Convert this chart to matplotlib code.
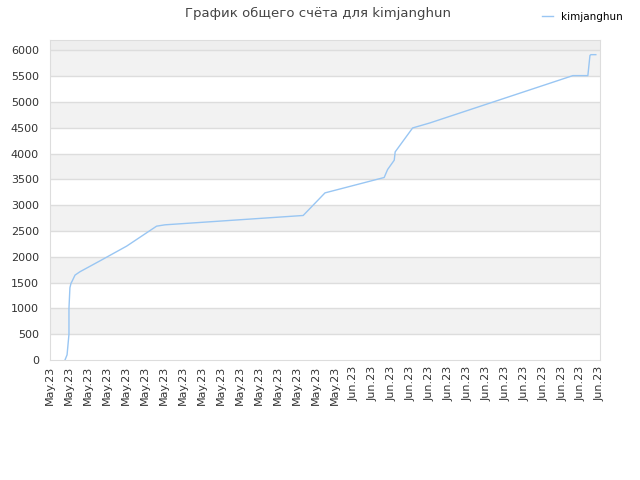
import matplotlib
matplotlib.use("Agg")
import matplotlib.pyplot as plt

# Data (x in tick-index units)
tick_labels = ["May.23"] * 16 + ["Jun.23"] * 14
x_vals = [0.79, 0.90, 1.00, 1.00, 1.05, 1.11, 1.13, 1.32, 1.58, 2.64, 4.04, 5.62,
          6.06, 13.35, 14.50, 17.62, 17.80, 18.15, 18.20, 19.12, 20.03, 27.57,
          28.36, 28.47, 28.52, 28.78]
scores = [0, 100, 500, 1000, 1400, 1490, 1500, 1645, 1710, 1922, 2206, 2593,
          2619, 2800, 3238, 3536, 3690, 3871, 4032, 4496, 4593, 5510,
          5510, 5900, 5916, 5916]

fig = plt.figure(figsize=(6.4, 4.8), dpi=100)
ax = fig.add_axes([50 / 640, 120 / 480, 550 / 640, 320 / 480])

# alternating bands
for lo in range(500, 6000, 1000):
    ax.axhspan(lo, lo + 500, color="#f2f2f2", zorder=0, lw=0)
ax.axhspan(6000, 6200, color="#eeeeee", zorder=0, lw=0)
for y in range(500, 6500, 500):
    ax.axhline(y, color="#dddddd", lw=1, zorder=1)

ax.plot(x_vals, scores, color="#99c6f3", lw=1.0, label="kimjanghun", zorder=3)

ax.set_xlim(0, 29)
ax.set_ylim(0, 6200)
ax.set_xticks(range(len(tick_labels)))
ax.set_xticklabels(tick_labels, rotation=90, fontsize=8, color="#333333")
ax.set_yticks(range(0, 6500, 500))
ax.tick_params(axis="y", labelsize=8, colors="#333333", length=0, pad=8)
ax.tick_params(axis="x", length=0, pad=4)
for s in ax.spines.values():
    s.set_color("#dddddd")

fig.text(0.497, 0.972, "График общего счёта для kimjanghun", ha="center", va="center",
         fontsize=9.5, color="#444444")
fig.legend(loc="upper right", bbox_to_anchor=(0.988, 0.995), frameon=False, fontsize=7.5,
           handlelength=1.0)

fig.savefig("out.png", dpi=100)
